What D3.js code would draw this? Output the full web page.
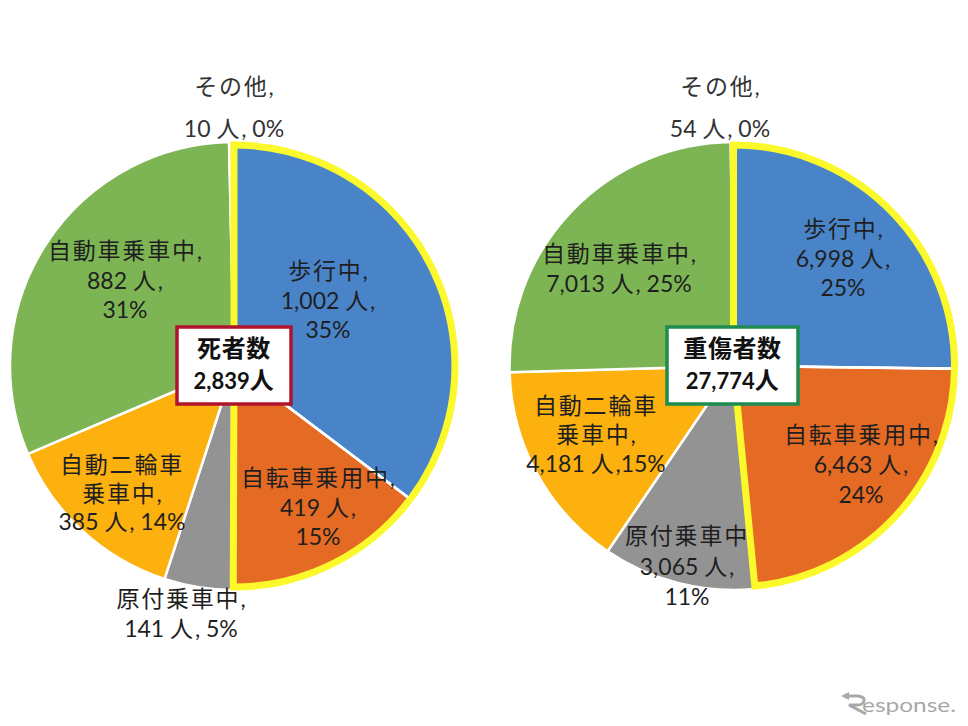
<!DOCTYPE html>
<html>
<head>
<meta charset="utf-8">
<script src="https://cdnjs.cloudflare.com/ajax/libs/d3/7.8.5/d3.min.js"></script>
<style>
  html, body { margin: 0; padding: 0; background: #fff; }
  text { font-family: Lato, "Noto Sans CJK JP", sans-serif; }
</style>
</head>
<body>
<div id="chart"></div>
<script>
// chart data
var categories = ["歩行中", "自転車乗用中", "原付乗車中", "自動二輪車乗車中", "自動車乗車中", "その他"];
var colors = ["#4a84c8", "#e56b25", "#939393", "#fdb10f", "#7db554", "#d9d9d9"];
var deaths = [1002, 419, 141, 385, 882, 10];
var injuries = [6998, 6463, 3065, 4181, 7013, 54];

var deathLabels = [
  ["歩行中,", "1,002 人,", "35%"],
  ["自転車乗用中,", "419 人,", "15%"],
  ["原付乗車中,", "141 人, 5%"],
  ["自動二輪車", "乗車中,", "385 人, 14%"],
  ["自動車乗車中,", "882 人,", "31%"],
  ["その他,", "10 人, 0%"]
];
var injuryLabels = [
  ["歩行中,", "6,998 人,", "25%"],
  ["自転車乗用中,", "6,463 人,", "24%"],
  ["原付乗車中", "3,065 人,", "11%"],
  ["自動二輪車", "乗車中,", "4,181 人,15%"],
  ["自動車乗車中,", "7,013 人, 25%"],
  ["その他,", "54 人, 0%"]
];

// layout, kept apart from the values: [center x, first baseline, line height] per label
var deathLayout = [[328, 279, 29.5], [318, 486, 29.5], [181, 607, 30], [122, 473, 28.5], [125, 259, 29.5], [234, 95, 42]];
var injuryLayout = [[843, 237, 29.5], [861, 443, 30], [687, 544, 30.5], [596, 414, 29], [619, 262, 30], [720, 95, 42]];

var width = 968, height = 726, radius = 224, centerY = 366;

var svg = d3.select("#chart").append("svg")
    .attr("width", width)
    .attr("height", height)
    .style("display", "block");

var pie = d3.pie().sort(null).startAngle(0).endAngle(2 * Math.PI);

// CJK runs get their own size and spacing, the digits stay tight
function fillRuns(sel, cjkSize, latinSize, cjkSpacing) {
  sel.each(function (d) {
    var t = d3.select(this);
    d.match(/[\u3000-\u9fff]+|[^\u3000-\u9fff]+/g).forEach(function (run) {
      var isCjk = /[\u3000-\u9fff]/.test(run);
      t.append("tspan")
          .attr("font-size", isCjk ? cjkSize : latinSize)
          .attr("letter-spacing", isCjk ? cjkSpacing : 0)
          .text(run);
    });
  });
}

function drawPie(values, labels, layout, centerX, box) {
  var slices = pie(values);
  var g = svg.append("g").attr("transform", "translate(" + centerX + "," + centerY + ")");

  g.selectAll("path.slice")
      .data(slices)
      .enter().append("path")
      .attr("class", "slice")
      .attr("d", d3.arc().innerRadius(0).outerRadius(radius))
      .attr("fill", function (d, i) { return colors[i]; })
      .attr("stroke", "#fff")
      .attr("stroke-width", 2.5);

  // yellow outline around the first two slices together
  g.append("path")
      .attr("d", d3.arc().innerRadius(0).outerRadius(radius - 3)({
        startAngle: slices[0].startAngle,
        endAngle: slices[1].endAngle
      }))
      .attr("fill", "none")
      .attr("stroke", "#fbf92c")
      .attr("stroke-width", 7);

  // white seam between the two outlined slices
  g.append("path")
      .attr("d", d3.arc().innerRadius(0).outerRadius(radius - 6)({
        startAngle: slices[0].endAngle,
        endAngle: slices[0].endAngle
      }))
      .attr("fill", "none")
      .attr("stroke", "#fff")
      .attr("stroke-width", 2.5);

  labels.forEach(function (lines, i) {
    var pos = layout[i];
    svg.append("g").selectAll("text")
        .data(lines)
        .enter().append("text")
        .attr("x", pos[0])
        .attr("y", function (d, j) { return pos[1] + j * pos[2]; })
        .attr("text-anchor", "middle")
        .attr("fill", i === 5 ? "#333" : "#1f1f1f")
        .call(fillRuns, 23, 23, 1.8);
  });

  // total box in the middle
  svg.append("rect")
      .attr("x", box.x)
      .attr("y", 327)
      .attr("width", box.w)
      .attr("height", 77)
      .attr("fill", "#fff")
      .attr("stroke", box.color)
      .attr("stroke-width", 3.5);
  svg.selectAll(null)
      .data(box.lines)
      .enter().append("text")
      .attr("x", box.x + box.w / 2)
      .attr("y", function (d, j) { return 357 + j * 32; })
      .attr("text-anchor", "middle")
      .attr("font-weight", 700)
      .attr("fill", "#111")
      .call(fillRuns, 24, 22, 0.6);
}

drawPie(deaths, deathLabels, deathLayout, 234, { x: 177, w: 114, color: "#b0142c", lines: ["死者数", "2,839人"] });
drawPie(injuries, injuryLabels, injuryLayout, 733.5, { x: 667, w: 131, color: "#1e8c50", lines: ["重傷者数", "27,774人"] });

// watermark: arrow shaped R, then the rest of the word
svg.append("path")
    .attr("d", "M847 696H858Q865 697 864 701Q863 705 857 705H849L866 714")
    .attr("fill", "none")
    .attr("stroke", "#a8a8a8")
    .attr("stroke-width", 3);
svg.append("path")
    .attr("d", "M841 696L849 692V700Z")
    .attr("fill", "#a8a8a8");
svg.append("text")
    .attr("x", 862)
    .attr("y", 712)
    .attr("font-size", 19)
    .attr("textLength", 94)
    .attr("lengthAdjust", "spacingAndGlyphs")
    .attr("fill", "#a8a8a8")
    .text("esponse.");
</script>
</body>
</html>
